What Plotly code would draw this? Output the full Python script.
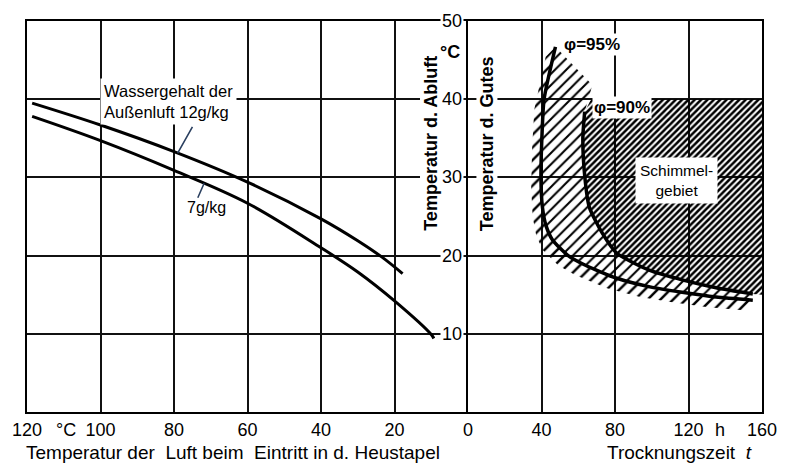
import plotly.graph_objects as go

# ---------------- data ----------------
# left panel: inlet air temperature (°C) -> exhaust air temperature (°C)
c_ticks = [120, 100, 80, 60, 40, 20]
c_ticktext = ["120", "100", "80", "60", "40", "20"]
t_ticks = [0, 40, 80, 120, 160]
t_ticktext = ["0", "40", "80", "120", "160"]
y_ticks = [50, 40, 30, 20, 10]

c12 = [118.6, 100, 80, 60, 40, 30, 23.4, 17.8]
T12 = [39.5, 36.7, 33.3, 29.4, 24.7, 21.9, 19.8, 17.7]
c7 = [118.6, 100, 80, 60, 40, 30, 20, 10, 9.3]
T7 = [37.8, 34.7, 30.9, 26.7, 21.0, 17.9, 14.2, 9.9, 9.4]

# right panel: drying time (h) -> temperature of hay (°C)
t95 = [47.6, 41.4, 40.2, 39.7, 40.5, 42.5, 46, 54.5, 63.6, 81, 99, 116.5, 135, 155]
T95 = [46.7, 40.0, 35.0, 30.0, 26.2, 23.8, 22.0, 20.0, 18.8, 17.1, 16.0, 15.3, 14.7, 14.3]
t90 = [63.5, 62.5, 63.6, 66, 73, 81, 99, 116.5, 135, 155]
T90 = [38.4, 35.0, 30.0, 26.2, 22.9, 20.3, 18.1, 16.9, 15.9, 15.1]
tri_t, tri_T = 67.7, 41.8          # upper corner of the light hatched area
mould_top, mould_end = 40, 160      # dense hatched (mould) area limits

# ---------------- geometry / style ----------------
W, H = 789, 463
ML, MR, MT, MB = 18, 17, 21, 51
PW, PH = W - ML - MR, H - MT - MB
SPLIT = 0.6
px_t = PW * (1 - SPLIT) / 160.0
px_T = PH / 50.0
tick_off = 10  # px length of boundary hatch ticks
FONT = "Liberation Sans"

band_t = t95 + [v - tick_off / px_t for v in t95[::-1]]
band_T = T95 + [v - tick_off / px_T for v in T95[::-1]]

def pattern(size, solidity):
    return dict(shape="/", fgcolor="black", fgopacity=1, size=size, solidity=solidity,
                fillmode="overlay")

fig = go.Figure()

# boundary hatch ticks
fig.add_trace(go.Scatter(
    x=band_t, y=band_T, xaxis="x2", yaxis="y2", mode="none", fill="toself",
    fillcolor="rgba(0,0,0,0)", fillpattern=pattern(9, 0.28), hoverinfo="skip"))
# light hatched region between 95% and 90%
fig.add_trace(go.Scatter(
    x=t95 + t90[::-1] + [tri_t], y=T95 + T90[::-1] + [tri_T],
    xaxis="x2", yaxis="y2", mode="none", fill="toself", fillcolor="rgba(0,0,0,0)",
    fillpattern=pattern(8, 0.26), hoverinfo="skip"))
# dense hatched region right of 90%
fig.add_trace(go.Scatter(
    x=t90 + [mould_end, mould_end, t90[0] + 3.5],
    y=T90 + [15.0, mould_top, mould_top],
    xaxis="x2", yaxis="y2", mode="none", fill="toself", fillcolor="rgba(0,0,0,0)",
    fillpattern=pattern(4.5, 0.55), hoverinfo="skip"))

# curves
for xs, ys in ((c12, T12), (c7, T7)):
    fig.add_trace(go.Scatter(x=xs, y=ys, xaxis="x", yaxis="y", mode="lines",
                             line=dict(color="black", width=3, shape="spline", smoothing=1.0)))
for xs, ys in ((t95, T95), (t90, T90)):
    fig.add_trace(go.Scatter(x=xs, y=ys, xaxis="x2", yaxis="y2", mode="lines",
                             line=dict(color="black", width=3.5, shape="spline", smoothing=0.6)))

grid = dict(showgrid=True, gridcolor="#111", gridwidth=1.6, zeroline=False,
            showline=True, linecolor="black", linewidth=2, ticks="")
tickfont = dict(family=FONT, size=18, color="black")

fig.update_layout(
    width=W, height=H, margin=dict(l=ML, r=MR, t=MT, b=MB),
    paper_bgcolor="white", plot_bgcolor="white", showlegend=False,
    xaxis=dict(domain=[0, SPLIT], range=[120, 0], tickvals=c_ticks, ticktext=c_ticktext,
               anchor="y", tickfont=tickfont, mirror=True, **grid),
    xaxis2=dict(domain=[SPLIT, 1], range=[0, 160], tickvals=t_ticks, ticktext=t_ticktext,
                anchor="y2", tickfont=tickfont, mirror=True, **grid),
    yaxis=dict(domain=[0, 1], range=[0, 50], dtick=10, anchor="x", showticklabels=False,
               mirror=False, **grid),
    yaxis2=dict(domain=[0, 1], range=[0, 50], dtick=10, anchor="x2", matches="y",
                showticklabels=False, mirror=True, **grid),
)

ann = []
def A(**k):
    base = dict(showarrow=False, font=dict(family=FONT, size=16, color="black"))
    base.update(k)
    ann.append(base)

# y tick labels on the middle axis
for v in y_ticks:
    A(text=str(v), xref="x", yref="y", x=0, y=v, xanchor="right", xshift=-4,
      bgcolor="white", borderpad=1, font=dict(family=FONT, size=18, color="black"))
A(text="°C", xref="x", yref="y", x=0, y=46, xanchor="right", xshift=-6,
  font=dict(family=FONT, size=18, color="black", weight="bold"))
# axis titles
A(text="Temperatur d. Abluft", xref="x", yref="y", x=10.3, y=23, textangle=-90,
  yanchor="bottom", bgcolor="white", borderpad=0,
  font=dict(family=FONT, size=18, color="black", weight="bold"))
A(text="Temperatur d. Gutes", xref="x2", yref="y", x=10.1, y=23, textangle=-90,
  yanchor="bottom", bgcolor="white", borderpad=0,
  font=dict(family=FONT, size=18, color="black", weight="bold"))
A(text="Temperatur der  Luft beim  Eintritt in d. Heustapel", xref="x", yref="paper",
  x=120, y=0, xanchor="left", yanchor="middle", yshift=-40, xshift=-3,
  font=dict(family=FONT, size=19, color="black"))
A(text="Trocknungszeit  <i>t</i>", xref="x2", yref="paper", x=115, y=0,
  yanchor="middle", yshift=-40, font=dict(family=FONT, size=19, color="black"))
A(text="°C", xref="x", yref="paper", x=109.5, y=0, yanchor="middle", yshift=-18,
  font=dict(family=FONT, size=18, color="black"))
A(text="h", xref="x2", yref="paper", x=137, y=0, yanchor="middle", yshift=-18,
  font=dict(family=FONT, size=18, color="black"))
# curve labels
A(text="Wassergehalt der<br>Außenluft 12g/kg", xref="x", yref="y", x=81.5, y=39.7,
  align="left", bgcolor="white", borderpad=3, font=dict(family=FONT, size=16.5, color="black"))
A(text="7g/kg", xref="x", yref="y", x=71.2, y=26.1, font=dict(family=FONT, size=16, color="black"))
A(text="", xref="x", yref="y", x=79, y=33.1, showarrow=True, arrowhead=0, arrowwidth=1.6,
  ax=15.6, ay=-27.7)
A(text="", xref="x", yref="y", x=71.8, y=29.25, showarrow=True, arrowhead=0, arrowwidth=1.6,
  ax=-7, ay=16)
A(text="φ=95%", xref="x2", yref="y", x=67.3, y=47.0, bgcolor="white", borderpad=1,
  font=dict(family=FONT, size=17, color="black", weight="bold"))
A(text="φ=90%", xref="x2", yref="y", x=83.8, y=38.95, bgcolor="white", borderpad=1,
  font=dict(family=FONT, size=17, color="black", weight="bold"))
A(text="Schimmel-<br>gebiet", xref="x2", yref="y", x=113.5, y=29.6, bgcolor="white",
  borderpad=4, font=dict(family=FONT, size=15.5, color="black"))

fig.update_layout(annotations=ann)
fig.write_html("out.html")
